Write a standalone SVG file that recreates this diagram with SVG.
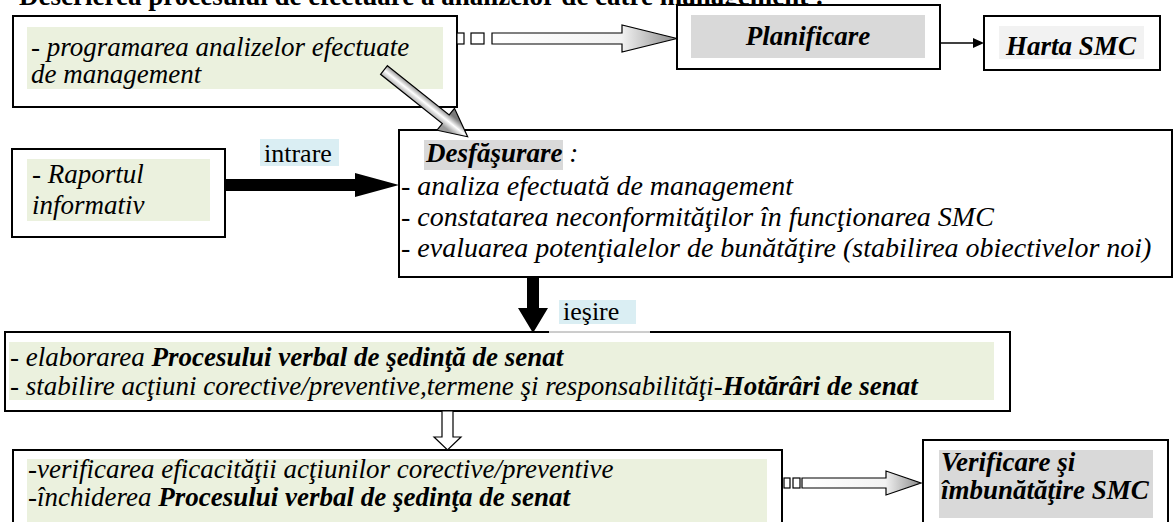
<svg xmlns="http://www.w3.org/2000/svg" width="1176" height="522" viewBox="0 0 1176 522">
<defs>
<style>
.box{fill:#fff;stroke:#000;stroke-width:2}
.green{fill:#ebf1de}
.grey{fill:#d9d9d9}
.lbl{fill:#daeef3}
text{font-family:"Liberation Serif","Times New Roman",serif;fill:#000}
.it{font-style:italic;font-size:27px}
.it28{font-style:italic;font-size:28px}
.bi{font-style:italic;font-weight:bold;font-size:27px}
.b{font-weight:bold}
.n{font-weight:normal}
.rg{font-size:26px}
.title{font-weight:bold;font-size:27px}
.hollow{fill:url(#hgrad);stroke:#000;stroke-width:1.2}
.solid{fill:#000}
</style>
<linearGradient id="hgrad" x1="0" y1="0" x2="1" y2="0">
<stop offset="0" stop-color="#ffffff"/>
<stop offset="0.7" stop-color="#f2f2f2"/>
<stop offset="1" stop-color="#8a8a8a"/>
</linearGradient>
<linearGradient id="dgrad" gradientUnits="userSpaceOnUse" x1="0" y1="-7" x2="0" y2="7">
<stop offset="0" stop-color="#7a7a7a"/>
<stop offset="0.5" stop-color="#ffffff"/>
<stop offset="1" stop-color="#9a9a9a"/>
</linearGradient>
</defs>

<text class="title" x="19" y="5">Descrierea procesului de efectuare a analizelor de către management :</text>

<g id="node-programare">
<rect class="box" x="13" y="16" width="444" height="91"/>
<rect class="green" x="27" y="27" width="416" height="62"/>
<text class="it" x="31" y="56">- programarea analizelor efectuate</text>
<text class="it" x="31" y="83">de management</text>
</g>

<g id="node-planificare">
<rect class="box" x="677" y="5" width="263" height="64"/>
<rect class="grey" x="691" y="15" width="234" height="43"/>
<text class="bi" x="808" y="45" text-anchor="middle">Planificare</text>
</g>

<g id="node-harta">
<rect class="box" x="984" y="16" width="176" height="54"/>
<rect x="999" y="26" width="145" height="33" fill="#f2f2f2"/>
<text class="bi" x="1071" y="55" text-anchor="middle">Harta SMC</text>
</g>

<g id="node-raport">
<rect class="box" x="12" y="149" width="213" height="88"/>
<rect class="green" x="27" y="159" width="183" height="62"/>
<text class="it" x="32" y="183">- Raportul</text>
<text class="it" x="32" y="214">informativ</text>
</g>

<g id="node-desfasurare">
<rect class="box" x="399" y="130" width="773" height="147"/>
<rect class="grey" x="424" y="140" width="139" height="30"/>
<text class="bi" x="426" y="162">Desfăşurare<tspan class="n"> :</tspan></text>
<text class="it28" x="401" y="195">- analiza efectuată de management</text>
<text class="it28" x="401" y="226">- constatarea neconformităţilor în funcţionarea SMC</text>
<text class="it28" x="401" y="257">- evaluarea potenţialelor de bunătăţire (stabilirea obiectivelor noi)</text>
</g>

<g id="node-proces-verbal">
<rect class="box" x="5" y="332" width="1005" height="79"/>
<rect class="green" x="9" y="342" width="985" height="58"/>
<text class="it" x="10" y="366">- elaborarea <tspan class="b">Procesului verbal de şedinţă de senat</tspan></text>
<text class="it" x="10" y="395">- stabilire acţiuni corective/preventive,termene şi responsabilităţi-<tspan class="b">Hotărâri de senat</tspan></text>
<line x1="549" y1="332" x2="650" y2="332" stroke="#fff" stroke-width="3"/>
<line x1="549" y1="332" x2="650" y2="332" stroke="#9a9a9a" stroke-width="1"/>
</g>

<g id="node-verificare-actiuni">
<rect class="box" x="13" y="450" width="769" height="90"/>
<rect class="green" x="27" y="459" width="740" height="70"/>
<text class="it" x="28" y="478">-verificarea eficacităţii acţiunilor corective/preventive</text>
<text class="it" x="28" y="506">-închiderea <tspan class="b">Procesului verbal de şedinţa de senat</tspan></text>
</g>

<g id="node-verificare-smc">
<rect class="box" x="923" y="440" width="245" height="100"/>
<rect class="grey" x="939" y="450" width="214" height="68"/>
<text class="bi" x="941" y="471">Verificare şi</text>
<text class="bi" x="941" y="499">îmbunătăţire SMC</text>
</g>

<g id="labels">
<rect class="lbl" x="260" y="139" width="79" height="27"/>
<text class="rg" x="264" y="162">intrare</text>
<rect class="lbl" x="559" y="300" width="77" height="24"/>
<text class="rg" x="563" y="320">ieşire</text>
</g>

<g id="connectors">
<rect x="457" y="33" width="7" height="11" fill="#fff" stroke="#000" stroke-width="1.2"/>
<rect x="471" y="33" width="13" height="11" fill="#fff" stroke="#000" stroke-width="1.2"/>
<polygon class="hollow" points="492,33 622,33 622,25 677,38.5 622,52 622,44 492,44"/>

<line x1="940" y1="43" x2="975" y2="43" stroke="#000" stroke-width="1.5"/>
<polygon class="solid" points="973,38 984,43 973,48"/>

<polygon fill="url(#dgrad)" stroke="#000" stroke-width="1.2" transform="translate(384,70) rotate(38.6)" points="0,-5.5 79,-5.5 79,-14 107,0 79,14 79,5.5 0,5.5"/>

<polygon class="solid" points="225,179 355,179 355,173 399,185 355,197 355,191 225,191"/>

<polygon class="solid" points="527,277 539,277 539,308 548,308 533,333 518,308 527,308"/>

<polygon points="442,411 453,411 453,437 461,437 447.5,450 434,437 442,437" fill="#fff" stroke="#000" stroke-width="1.2"/>

<rect x="784" y="478" width="6" height="10" fill="#fff" stroke="#000" stroke-width="1.2"/>
<rect x="793" y="478" width="7" height="10" fill="#fff" stroke="#000" stroke-width="1.2"/>
<polygon class="hollow" points="802,478 886,478 886,471 921,483 886,495 886,488 802,488"/>
</g>
</svg>
